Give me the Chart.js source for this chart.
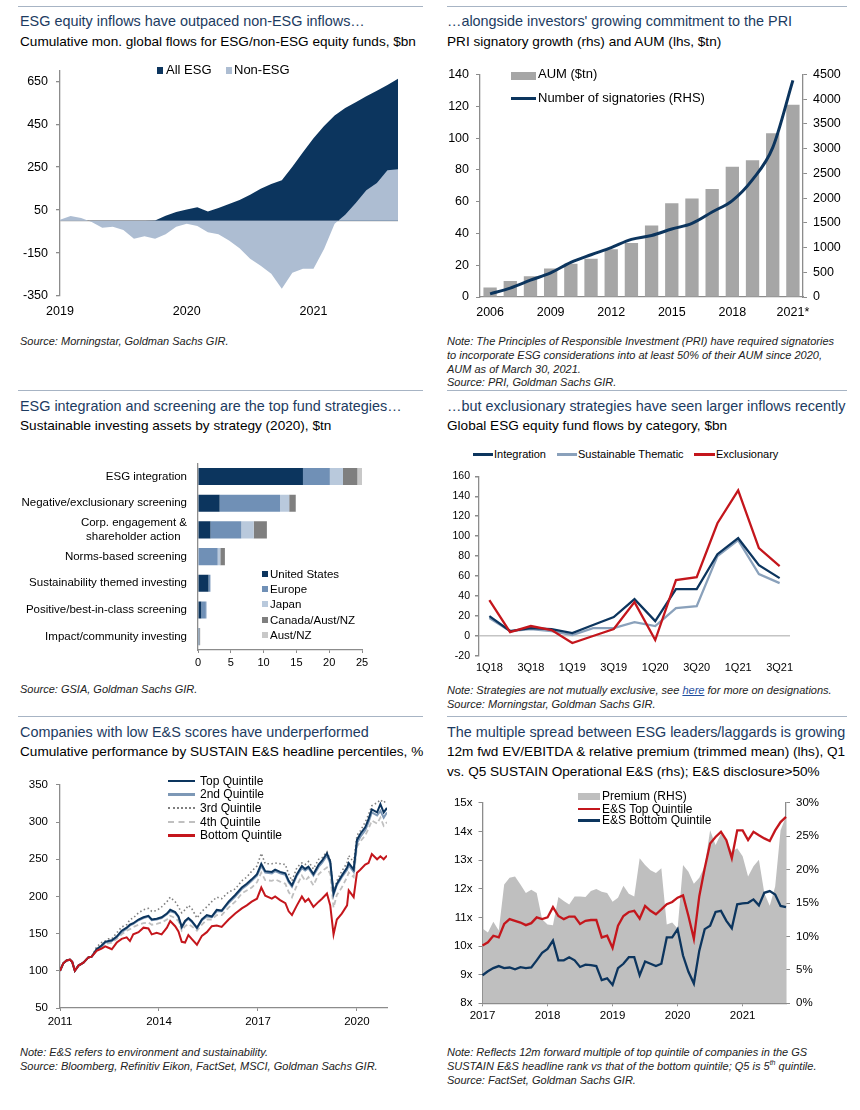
<!DOCTYPE html>
<html>
<head>
<meta charset="utf-8">
<script src="https://cdn.jsdelivr.net/npm/chart.js@4.4.1/dist/chart.umd.min.js"></script>
<style>
body{margin:0;background:#fff;font-family:"Liberation Sans",Arial,sans-serif;color:#000}
#page{position:relative;width:860px;height:1110px;overflow:hidden}
.t{position:absolute;white-space:nowrap}
.ttl{font-size:14.4px;line-height:20px;color:#1c3b61}
.sub{font-size:13.6px;line-height:20px}
.note{font-size:11px;line-height:13.8px;font-style:italic;color:#222}
.note a{color:#1f4fa0;text-decoration:underline}
.note sup{font-size:7px;line-height:0}
.sep{position:absolute;height:1.3px;background:#a7b4c4}
.cw{position:absolute}
.sw{position:absolute}
.lg{position:absolute;white-space:nowrap}
</style>
</head>
<body>
<div id="page">

<!-- separators -->
<div class="sep" style="left:18px;top:6px;width:405px"></div>
<div class="sep" style="left:447px;top:6px;width:400px"></div>
<div class="sep" style="left:18px;top:390px;width:405px"></div>
<div class="sep" style="left:447px;top:390px;width:400px"></div>
<div class="sep" style="left:18px;top:716px;width:405px"></div>
<div class="sep" style="left:447px;top:716px;width:400px"></div>

<!-- panel 1 -->
<div class="t ttl" style="left:20px;top:11px">ESG equity inflows have outpaced non-ESG inflows…</div>
<div class="t sub" style="left:20px;top:32px">Cumulative mon. global flows for ESG/non-ESG equity funds, $bn</div>
<div class="cw" style="left:10px;top:55px;width:400px;height:265px"><canvas id="c1"></canvas></div>
<div class="sw" style="left:157px;top:67px;width:6px;height:7px;background:#0c355e"></div>
<div class="lg" style="left:166px;top:62px;font-size:13px;line-height:16px">All ESG</div>
<div class="sw" style="left:226px;top:67px;width:6px;height:7px;background:#adbdd2"></div>
<div class="lg" style="left:234px;top:62px;font-size:13px;line-height:16px">Non-ESG</div>
<div class="t note" style="left:20px;top:335px">Source: Morningstar, Goldman Sachs GIR.</div>

<!-- panel 2 -->
<div class="t ttl" style="left:447px;top:11px">…alongside investors' growing commitment to the PRI</div>
<div class="t sub" style="left:447px;top:32px">PRI signatory growth (rhs) and AUM (lhs, $tn)</div>
<div class="cw" style="left:440px;top:60px;width:410px;height:265px"><canvas id="c2"></canvas></div>
<div class="sw" style="left:511px;top:72px;width:25px;height:8px;background:#a6a6a6"></div>
<div class="lg" style="left:538px;top:66px;font-size:13px;line-height:16px">AUM ($tn)</div>
<div class="sw" style="left:511px;top:97px;width:25px;height:3px;background:#0c355e"></div>
<div class="lg" style="left:538px;top:90px;font-size:13px;line-height:16px">Number of signatories (RHS)</div>
<div class="t note" style="left:447px;top:335px">Note: The Principles of Responsible Investment (PRI) have required signatories<br>to incorporate ESG considerations into at least 50% of their AUM since 2020,<br>AUM as of March 30, 2021.<br>Source: PRI, Goldman Sachs GIR.</div>

<!-- panel 3 -->
<div class="t ttl" style="left:20px;top:396px">ESG integration and screening are the top fund strategies…</div>
<div class="t sub" style="left:20px;top:416px">Sustainable investing assets by strategy (2020), $tn</div>
<div class="cw" style="left:10px;top:445px;width:370px;height:230px"><canvas id="c3"></canvas></div>
<div class="sw" style="left:262px;top:571px;width:6px;height:6px;background:#0c355e"></div>
<div class="lg" style="left:270px;top:567px;font-size:11.5px;line-height:14px">United States</div>
<div class="sw" style="left:262px;top:586px;width:6px;height:6px;background:#7090b6"></div>
<div class="lg" style="left:270px;top:582px;font-size:11.5px;line-height:14px">Europe</div>
<div class="sw" style="left:262px;top:601px;width:6px;height:6px;background:#b9c9dc"></div>
<div class="lg" style="left:270px;top:597px;font-size:11.5px;line-height:14px">Japan</div>
<div class="sw" style="left:262px;top:617px;width:6px;height:6px;background:#7f7f7f"></div>
<div class="lg" style="left:270px;top:613px;font-size:11.5px;line-height:14px">Canada/Aust/NZ</div>
<div class="sw" style="left:262px;top:632px;width:6px;height:6px;background:#c8c8c8"></div>
<div class="lg" style="left:270px;top:628px;font-size:11.5px;line-height:14px">Aust/NZ</div>
<div class="t note" style="left:20px;top:683px">Source: GSIA, Goldman Sachs GIR.</div>

<!-- panel 4 -->
<div class="t ttl" style="left:447px;top:396px">…but exclusionary strategies have seen larger inflows recently</div>
<div class="t sub" style="left:447px;top:416px">Global ESG equity fund flows by category, $bn</div>
<div class="cw" style="left:440px;top:465px;width:360px;height:215px"><canvas id="c4"></canvas></div>
<div class="sw" style="left:473px;top:453px;width:20px;height:2.5px;background:#0c355e"></div>
<div class="lg" style="left:494px;top:447px;font-size:11px;line-height:14px">Integration</div>
<div class="sw" style="left:557px;top:453px;width:20px;height:2.5px;background:#8aa1bb"></div>
<div class="lg" style="left:578px;top:447px;font-size:11px;line-height:14px">Sustainable Thematic</div>
<div class="sw" style="left:694px;top:453px;width:21px;height:2.5px;background:#c4161c"></div>
<div class="lg" style="left:716px;top:447px;font-size:11px;line-height:14px">Exclusionary</div>
<div class="t note" style="left:447px;top:684px">Note: Strategies are not mutually exclusive, see <a>here</a> for more on designations.<br>Source: Morningstar, Goldman Sachs GIR.</div>

<!-- panel 5 -->
<div class="t ttl" style="left:20px;top:722px">Companies with low E&amp;S scores have underperformed</div>
<div class="t sub" style="left:20px;top:742px">Cumulative performance by SUSTAIN E&amp;S headline percentiles, %</div>
<div class="cw" style="left:10px;top:770px;width:385px;height:265px"><canvas id="c5"></canvas></div>
<div class="sw" style="left:168px;top:779.5px;width:27px;height:2.5px;background:#0c355e"></div>
<div class="lg" style="left:200px;top:773.5px;font-size:12px;line-height:14px">Top Quintile</div>
<div class="sw" style="left:168px;top:793px;width:27px;height:2.5px;background:#7d98b6"></div>
<div class="lg" style="left:200px;top:787px;font-size:12px;line-height:14px">2nd Quintile</div>
<div class="sw" style="left:168px;top:806.5px;width:27px;height:0;border-top:2px dotted #7f7f7f"></div>
<div class="lg" style="left:200px;top:800.5px;font-size:12px;line-height:14px">3rd Quintile</div>
<div class="sw" style="left:168px;top:820.5px;width:27px;height:0;border-top:2px dashed #c0c0c0"></div>
<div class="lg" style="left:200px;top:814.5px;font-size:12px;line-height:14px">4th Quintile</div>
<div class="sw" style="left:168px;top:834px;width:27px;height:2.5px;background:#c4161c"></div>
<div class="lg" style="left:200px;top:828px;font-size:12px;line-height:14px">Bottom Quintile</div>
<div class="t note" style="left:20px;top:1046px">Note: E&amp;S refers to environment and sustainability.<br>Source: Bloomberg, Refinitiv Eikon, FactSet, MSCI, Goldman Sachs GIR.</div>

<!-- panel 6 -->
<div class="t ttl" style="left:447px;top:722px">The multiple spread between ESG leaders/laggards is growing</div>
<div class="t sub" style="left:447px;top:742px">12m fwd EV/EBITDA &amp; relative premium (trimmed mean) (lhs), Q1</div>
<div class="t sub" style="left:447px;top:762px">vs. Q5 SUSTAIN Operational E&amp;S (rhs); E&amp;S disclosure&gt;50%</div>
<div class="cw" style="left:440px;top:790px;width:415px;height:240px"><canvas id="c6"></canvas></div>
<div class="sw" style="left:578px;top:792.5px;width:22px;height:7px;background:#bfbfbf"></div>
<div class="lg" style="left:602px;top:788.5px;font-size:12px;line-height:14px">Premium (RHS)</div>
<div class="sw" style="left:578px;top:807.5px;width:22px;height:2.5px;background:#c4161c"></div>
<div class="lg" style="left:602px;top:801.5px;font-size:12px;line-height:14px">E&amp;S Top Quintile</div>
<div class="sw" style="left:578px;top:819px;width:22px;height:2.5px;background:#0c355e"></div>
<div class="lg" style="left:602px;top:813px;font-size:12px;line-height:14px">E&amp;S Bottom Quintile</div>
<div class="t note" style="left:447px;top:1046px">Note: Reflects 12m forward multiple of top quintile of companies in the GS<br>SUSTAIN E&amp;S headline rank vs that of the bottom quintile; Q5 is 5<sup>th</sup> quintile.<br>Source: FactSet, Goldman Sachs GIR.</div>

</div>

<script>
// ---------- data ----------

// panel 1: cumulative monthly flows, $bn
const flowMonths = ['Jan 2019','Feb 2019','Mar 2019','Apr 2019','May 2019','Jun 2019','Jul 2019','Aug 2019','Sep 2019','Oct 2019','Nov 2019','Dec 2019',
'Jan 2020','Feb 2020','Mar 2020','Apr 2020','May 2020','Jun 2020','Jul 2020','Aug 2020','Sep 2020','Oct 2020','Nov 2020','Dec 2020',
'Jan 2021','Feb 2021','Mar 2021','Apr 2021','May 2021','Jun 2021','Jul 2021','Aug 2021','Sep 2021'];
const allEsg = [0,0,0,0,0,0,0,0,0,2,24,41,53,63,43,60,78,97,122,149,171,189,252,319,385,441,491,525,552,580,606,633,662];
const nonEsg = [5,22,13,-6,-32,-28,-43,-83,-72,-84,-62,-28,-13,-24,-53,-62,-91,-128,-176,-209,-246,-316,-242,-223,-223,-131,-13,28,83,142,176,235,240];
const flowTicks = [-350,-150,0,50,250,450,650];

// panel 2: PRI
const priYears = ['2006','2007','2008','2009','2010','2011','2012','2013','2014','2015','2016','2017','2018','2019','2020','2021*'];
const aumTn = [6,10,13,18,21,24,30,34,45,59,62,68,82,86,103,121];
const signatories = [63,180,340,490,700,855,1000,1165,1245,1375,1490,1720,1950,2375,3020,4380];

// panel 3: assets by strategy, $tn
const strategies = ['ESG integration','Negative/exclusionary screening',['Corp. engagement &','shareholder action\u00a0\u00a0'],'Norms-based screening','Sustainability themed investing','Positive/best-in-class screening','Impact/community investing'];
const usTn = [16.0,3.3,1.9,0,1.6,0.5,0.1];
const europeTn = [4.1,9.2,4.7,3.0,0.25,0.7,0.1];
const japanTn = [2.0,1.4,1.9,0.4,0.1,0.15,0];
const canadaTn = [2.2,1.0,2.0,0.7,0,0,0.1];
const austNzTn = [0.8,0,0,0,0,0,0.05];

// panel 4: quarterly flows by category, $bn
const quarters = ['1Q18','2Q18','3Q18','4Q18','1Q19','2Q19','3Q19','4Q19','1Q20','2Q20','3Q20','4Q20','1Q21','2Q21','3Q21'];
const integration = [20,5,8,7,3,11,19,37,15,47,47,82,98,71,58];
const thematic = [18,5,7,5,1,8,8,14,10,28,30,80,96,62,53];
const exclusionary = [36,4,10,6,-7,0,7,34,-4,56,59,113,146,88,70];

// panel 5: cumulative performance by quintile
const perfDates = [2011.00,2011.10,2011.20,2011.30,2011.37,2011.45,2011.56,2011.71,2011.86,2011.96,
2012.11,2012.26,2012.37,2012.47,2012.57,2012.72,2012.87,
2013.02,2013.12,2013.22,2013.38,2013.53,2013.68,2013.78,2013.93,
2014.08,2014.24,2014.34,2014.49,2014.59,2014.69,2014.79,2014.89,2014.99,
2015.15,2015.30,2015.45,2015.60,2015.75,2015.90,
2016.11,2016.31,2016.51,2016.66,2016.81,2016.97,
2017.10,2017.22,2017.42,2017.52,2017.67,2017.83,2017.93,
2018.03,2018.18,2018.33,2018.43,2018.53,2018.68,2018.84,2018.94,
2019.09,2019.19,2019.29,2019.39,2019.54,2019.70,2019.75,2019.90,
2020.00,2020.10,2020.25,2020.35,2020.45,2020.61,2020.71,2020.81,2020.91];
const topQ = [100,110,114,115,112,100,107,111,118,119, 129,134,139,140,141,146,154, 158,162,164,169,172,174,169,170,
172,177,182,179,173,159,167,171,167, 158,169,175,173,182,181, 193,202,212,217,223,230, 244,234,233,236,233,231,221,
215,230,241,237,240,230,243,248, 258,247,204,217,228,239,245,236, 276,284,293,304,317,313,324,313,319];
const secondQ = [100,110,114,115,112,100,107,111,118,119, 128,133,138,139,140,145,152, 157,161,163,168,171,173,168,169,
171,176,180,178,172,158,166,170,166, 157,168,173,172,180,180, 191,200,210,215,221,228, 241,232,231,234,231,229,219,
213,228,238,235,238,228,240,245, 255,244,202,215,226,236,242,233, 272,280,289,300,313,309,315,306,313];
const thirdQ = [100,110,114,115,112,100,107,111,118,119, 132,138,140,143,143,151,159, 162,169,171,178,182,184,180,181,
186,193,199,193,186,178,182,188,184, 171,180,186,193,199,197, 206,210,221,226,234,241, 258,244,244,245,244,243,230,
221,239,245,243,247,237,250,252, 260,249,204,221,234,245,255,246, 282,288,300,310,322,326,330,326,330];
const fourthQ = [100,110,114,115,112,100,107,111,118,119, 129,132,136,137,138,143,149, 154,156,159,162,164,165,162,163,
165,169,174,171,167,154,160,163,160, 154,162,169,169,175,175, 185,193,204,208,212,219, 232,222,221,223,220,217,206,
199,215,228,221,226,215,230,234, 239,230,185,202,212,226,232,226, 267,274,282,291,302,298,306,295,300];
const bottomQ = [100,110,114,115,112,100,107,111,118,119, 127,130,133,131,129,138,143, 145,140,149,152,158,157,149,151,
149,158,167,160,153,139,138,148,143, 135,147,152,160,161,159, 169,177,184,188,193,197, 212,201,197,200,195,191,180,
175,188,200,193,197,186,193,197, 204,188,149,169,177,188,208,199, 232,236,243,245,257,250,254,250,255];
const perfYearTicks = [2011,2014,2017,2020];

// panel 6: EV/EBITDA multiples and premium
const evMonths = ['Jan-17','Feb-17','Mar-17','Apr-17','May-17','Jun-17','Jul-17','Aug-17','Sep-17','Oct-17','Nov-17','Dec-17',
'Jan-18','Feb-18','Mar-18','Apr-18','May-18','Jun-18','Jul-18','Aug-18','Sep-18','Oct-18','Nov-18','Dec-18',
'Jan-19','Feb-19','Mar-19','Apr-19','May-19','Jun-19','Jul-19','Aug-19','Sep-19','Oct-19','Nov-19','Dec-19',
'Jan-20','Feb-20','Mar-20','Apr-20','May-20','Jun-20','Jul-20','Aug-20','Sep-20','Oct-20','Nov-20','Dec-20',
'Jan-21','Feb-21','Mar-21','Apr-21','May-21','Jun-21','Jul-21','Aug-21','Sep-21'];
const premiumPct = [11.2,10.6,12.2,10.9,17.8,18.8,19.0,17.8,16.5,17.0, 16.5,12.6,11.8,11.7,15.9,15.3,14.8,16.0,16.0,15.9,
16.8,17.1,16.7,16.5,15.2,15.8,17.6,16.4,16.0,21.7, 20.7,19.9,19.5,20.2,11.8,12.1,11.2,20.7,19.7,17.9,
18.8,20.5,25.9,23.7,25.4,24.4,22.7,23.2,22.0,19.0, 20.5,21.5,16.5,14.6,17.5,25.9,28.0];
const esTopX = [10.02,10.13,10.36,10.30,10.77,10.94,10.88,10.82,10.73,10.80, 11.00,10.94,11.00,11.36,11.05,10.94,11.03,11.03,10.77,10.88,
10.91,10.91,10.30,10.36,9.93,10.71,11.05,11.19,11.23,10.96, 11.40,11.23,11.11,11.28,11.46,11.54,11.69,11.77,11.05,10.25,
11.74,12.72,13.58,13.81,13.99,13.70,13.07,14.04,14.04,13.70, 13.99,13.87,13.76,13.67,14.04,14.33,14.51];
const esBottomX = [8.98,9.12,9.23,9.30,9.23,9.25,9.19,9.26,9.23,9.25, 9.50,9.76,9.90,10.19,9.50,9.50,9.61,9.50,9.27,9.35,
9.33,9.30,8.81,8.87,8.64,9.23,9.38,9.61,9.61,8.98, 9.46,9.38,9.30,9.38,10.30,10.30,10.59,9.67,9.10,8.69,
9.84,10.59,10.71,11.19,11.23,10.88,10.62,11.46,11.49,11.51, 11.63,11.42,11.86,11.92,11.80,11.40,11.36];

// ---------- common ----------

Chart.defaults.font.family = '"Liberation Sans", Arial, sans-serif';
Chart.defaults.color = '#000';
Chart.defaults.animation = false;
Chart.defaults.events = [];
Chart.defaults.plugins.legend.display = false;
Chart.defaults.plugins.tooltip.enabled = false;
Chart.defaults.maintainAspectRatio = false;

const NAVY = '#0c355e';
const RED = '#c4161c';
const AXIS = '#8c8c8c';

function fixW(w){ return function(s){ s.width = w; }; }
function fixH(h){ return function(s){ s.height = h; }; }

function valueAxis(opts){
  // a plain gray axis with small outside tick marks
  return Object.assign({
    grid:{drawOnChartArea:false, drawTicks:true, tickLength:4, color:AXIS},
    border:{display:true, color:AXIS, width:1.3}
  }, opts);
}

// ---------- panel 1 ----------

new Chart(document.getElementById('c1'), {
  type:'line',
  data:{
    labels:flowMonths,
    datasets:[
      {label:'All ESG', data:allEsg, fill:'origin', backgroundColor:NAVY, borderColor:NAVY, borderWidth:0, pointRadius:0, tension:0, order:2},
      {label:'Non-ESG', data:nonEsg, fill:'origin', backgroundColor:'#adbdd2', borderColor:'#adbdd2', borderWidth:0, pointRadius:0, tension:0, order:1}
    ]
  },
  options:{
    layout:{padding:{top:4, right:12, left:0, bottom:0}},
    scales:{
      x:{
        grid:{display:false, drawTicks:false},
        border:{display:false},
        ticks:{autoSkip:false, maxRotation:0, padding:8, font:{size:12.5},
          callback:function(v){
            const l = this.getLabelForValue(v);
            return l.startsWith('Jan') ? l.slice(4) : null;
          }},
        afterFit:fixH(24)
      },
      y:valueAxis({
        min:-350, max:700,
        afterBuildTicks:function(s){ s.ticks = flowTicks.map(v => ({value:v})); },
        grid:{drawOnChartArea:true, drawTicks:true, tickLength:4,
          color:ctx => (ctx.tick && ctx.tick.value === 0) ? '#9a9a9a' : 'rgba(0,0,0,0)',
          tickColor:ctx => (ctx.tick && ctx.tick.value === 0) ? 'rgba(0,0,0,0)' : AXIS,
          lineWidth:1.3},
        ticks:{padding:8, font:{size:12.5}, callback:v => v === 0 ? '' : String(v)},
        afterFit:fixW(50)
      })
    }
  }
});

// ---------- panel 2 ----------

new Chart(document.getElementById('c2'), {
  type:'bar',
  data:{
    labels:priYears,
    datasets:[
      {type:'line', label:'Number of signatories (RHS)', data:signatories, yAxisID:'y1', borderColor:NAVY, borderWidth:3, pointRadius:0, cubicInterpolationMode:'monotone', order:1},
      {label:'AUM ($tn)', data:aumTn, yAxisID:'y', backgroundColor:'#a6a6a6', barPercentage:0.66, categoryPercentage:1, order:2}
    ]
  },
  options:{
    layout:{padding:{top:9, right:0, left:0, bottom:0}},
    scales:{
      x:{
        grid:{display:false, drawTicks:false},
        border:{display:true, color:AXIS, width:1.3},
        ticks:{autoSkip:false, maxRotation:0, padding:8.5, font:{size:12.5},
          callback:function(v, i){ return i % 3 === 0 ? this.getLabelForValue(v) : null; }},
        afterFit:fixH(28)
      },
      y:valueAxis({
        position:'left', min:0, max:140,
        ticks:{stepSize:20, padding:7, font:{size:12.5}},
        afterFit:fixW(40)
      }),
      y1:valueAxis({
        position:'right', min:0, max:4500,
        ticks:{stepSize:500, padding:6, font:{size:12.5}, callback:v => String(v)},
        afterFit:fixW(47)
      })
    }
  }
});

// ---------- panel 3 ----------

new Chart(document.getElementById('c3'), {
  type:'bar',
  data:{
    labels:strategies,
    datasets:[
      {label:'United States', data:usTn, backgroundColor:NAVY},
      {label:'Europe', data:europeTn, backgroundColor:'#7090b6'},
      {label:'Japan', data:japanTn, backgroundColor:'#b9c9dc'},
      {label:'Canada/Aust/NZ', data:canadaTn, backgroundColor:'#7f7f7f'},
      {label:'Aust/NZ', data:austNzTn, backgroundColor:'#c8c8c8'}
    ]
  },
  options:{
    indexAxis:'y',
    datasets:{bar:{barPercentage:0.64, categoryPercentage:1}},
    layout:{padding:{top:7, right:18, left:0, bottom:0}},
    scales:{
      x:valueAxis({
        stacked:true, min:0, max:25,
        grid:{drawOnChartArea:false, drawTicks:true, tickLength:3, color:AXIS},
        ticks:{stepSize:5, padding:3, font:{size:11}},
        afterFit:fixH(25)
      }),
      y:{
        stacked:true,
        grid:{display:false, drawTicks:false},
        border:{display:true, color:AXIS, width:1.3},
        ticks:{autoSkip:false, padding:11, font:{size:11.5, lineHeight:1.25}},
        afterFit:fixW(188)
      }
    }
  }
});

// ---------- panel 4 ----------

new Chart(document.getElementById('c4'), {
  type:'line',
  data:{
    labels:quarters,
    datasets:[
      {label:'Integration', data:integration, borderColor:NAVY, borderWidth:2.3, pointRadius:0, tension:0, order:1},
      {label:'Sustainable Thematic', data:thematic, borderColor:'#8aa1bb', borderWidth:2.3, pointRadius:0, tension:0, order:2},
      {label:'Exclusionary', data:exclusionary, borderColor:RED, borderWidth:2.3, pointRadius:0, tension:0, order:0}
    ]
  },
  options:{
    layout:{padding:{top:9, right:10, left:0, bottom:0}},
    scales:{
      x:{
        offset:true,
        grid:{display:false, drawTicks:false},
        border:{display:false},
        ticks:{autoSkip:false, maxRotation:0, padding:5, font:{size:11},
          callback:function(v, i){ return i % 2 === 0 ? this.getLabelForValue(v) : null; }},
        afterFit:fixH(24)
      },
      y:valueAxis({
        min:-20, max:160,
        grid:{drawOnChartArea:true, drawTicks:true, tickLength:4,
          color:ctx => (ctx.tick && ctx.tick.value === 0) ? '#c4c4c4' : 'rgba(0,0,0,0)',
          tickColor:AXIS, lineWidth:1.5},
        ticks:{stepSize:20, padding:5, font:{size:10.5}},
        afterFit:fixW(39)
      })
    }
  }
});

// ---------- panel 5 ----------

function perfSeries(arr){ return perfDates.map((d, i) => ({x:d, y:arr[i]})); }

new Chart(document.getElementById('c5'), {
  type:'line',
  data:{
    datasets:[
      {label:'Top Quintile', data:perfSeries(topQ), borderColor:NAVY, borderWidth:2, pointRadius:0, tension:0, order:1},
      {label:'2nd Quintile', data:perfSeries(secondQ), borderColor:'#7d98b6', borderWidth:2, pointRadius:0, tension:0, order:2},
      {label:'3rd Quintile', data:perfSeries(thirdQ), borderColor:'#7f7f7f', borderWidth:1.6, borderDash:[1.5,2.5], pointRadius:0, tension:0, order:3},
      {label:'4th Quintile', data:perfSeries(fourthQ), borderColor:'#c0c0c0', borderWidth:1.8, borderDash:[5,3], pointRadius:0, tension:0, order:4},
      {label:'Bottom Quintile', data:perfSeries(bottomQ), borderColor:RED, borderWidth:2, pointRadius:0, tension:0, order:0}
    ]
  },
  options:{
    layout:{padding:{top:8, right:8, left:0, bottom:0}},
    scales:{
      x:valueAxis({
        type:'linear', min:2011, max:2020.91,
        afterBuildTicks:function(s){ s.ticks = perfYearTicks.map(v => ({value:v})); },
        grid:{drawOnChartArea:false, drawTicks:true, tickLength:3, color:AXIS},
        ticks:{padding:4, font:{size:11.5}, callback:v => String(v)},
        afterFit:fixH(27)
      }),
      y:valueAxis({
        min:50, max:350,
        ticks:{stepSize:50, padding:8, font:{size:11.5}},
        afterFit:fixW(50)
      })
    }
  }
});

// ---------- panel 6 ----------

new Chart(document.getElementById('c6'), {
  type:'line',
  data:{
    labels:evMonths,
    datasets:[
      {label:'Premium (RHS)', data:premiumPct, yAxisID:'y1', fill:'origin', backgroundColor:'#bfbfbf', borderColor:'#bfbfbf', borderWidth:0, pointRadius:0, tension:0, order:3},
      {label:'E&S Top Quintile', data:esTopX, yAxisID:'y', borderColor:RED, borderWidth:2.3, pointRadius:0, tension:0, order:1},
      {label:'E&S Bottom Quintile', data:esBottomX, yAxisID:'y', borderColor:NAVY, borderWidth:2.3, pointRadius:0, tension:0, order:2}
    ]
  },
  options:{
    layout:{padding:{top:10.7, right:0, left:0, bottom:0}},
    scales:{
      x:valueAxis({
        grid:{drawOnChartArea:false, drawTicks:true, tickLength:3, color:AXIS},
        ticks:{autoSkip:false, maxRotation:0, padding:3, font:{size:11.5},
          callback:function(v, i){
            const l = this.getLabelForValue(v);
            return l.startsWith('Jan') ? '20' + l.slice(4) : null;
          }},
        afterFit:fixH(26.7)
      }),
      y:valueAxis({
        position:'left', min:8, max:15,
        ticks:{stepSize:1, padding:6, font:{size:11.5}, callback:v => v + 'x'},
        afterFit:fixW(42.5)
      }),
      y1:valueAxis({
        position:'right', min:0, max:30,
        ticks:{stepSize:5, padding:6, font:{size:11.5}, callback:v => v + '%'},
        afterFit:fixW(69)
      })
    }
  }
});
</script>
</body>
</html>
